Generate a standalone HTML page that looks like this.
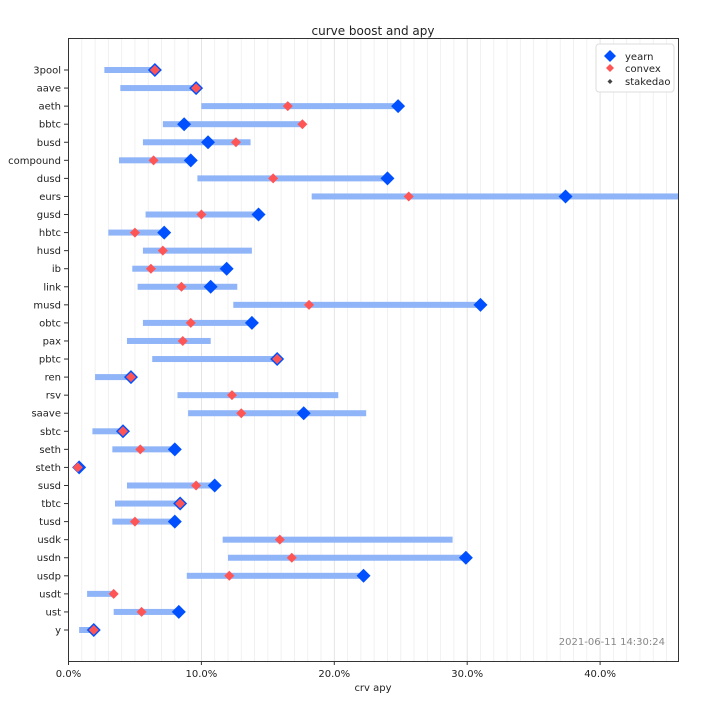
<!DOCTYPE html>
<html><head><meta charset="utf-8"><style>
body{margin:0;background:#fff;font-family:"Liberation Sans","DejaVu Sans",sans-serif}
svg text{font-family:"DejaVu Sans","Liberation Sans",sans-serif}
</style></head><body>
<svg id="chart" width="701" height="705" xmlns="http://www.w3.org/2000/svg">
<rect width="701" height="705" fill="#fff"/>
<text x="373" y="35" font-size="12" text-anchor="middle" fill="#222">curve boost and apy</text>
<g id="grid"></g><g id="marks"></g><g id="axes"></g>
<rect x="68.5" y="38.5" width="610" height="623" fill="none" stroke="#333" stroke-width="1"/>
<text x="665" y="645" font-size="10" text-anchor="end" fill="#888">2021-06-11 14:30:24</text>
<text x="373" y="691" font-size="10" text-anchor="middle" fill="#222">crv apy</text>
<g>
<rect x="596" y="44" width="78" height="48" rx="3" fill="#fff" stroke="#ddd"/>
<path d="M610,50 l6,6 l-6,6 l-6,-6z" fill="#0050ff"/>
<text x="625" y="60" font-size="10" fill="#222">yearn</text>
<path d="M610,64 l4,4 l-4,4 l-4,-4z" fill="#ff5555"/>
<text x="625" y="72" font-size="10" fill="#222">convex</text>
<path d="M610,79 l2.5,2.5 l-2.5,2.5 l-2.5,-2.5z" fill="#444"/>
<text x="625" y="85" font-size="10" fill="#222">stakedao</text>
</g>
</svg>
<script>
const categories=["3pool","aave","aeth","bbtc","busd","compound","dusd","eurs","gusd","hbtc","husd","ib","link","musd","obtc","pax","pbtc","ren","rsv","saave","sbtc","seth","steth","susd","tbtc","tusd","usdk","usdn","usdp","usdt","ust","y"];
const minApy=[2.7,3.9,10.0,7.1,5.6,3.8,9.7,18.3,5.8,3.0,5.6,4.8,5.2,12.4,5.6,4.4,6.3,2.0,8.2,9.0,1.8,3.3,0.5,4.4,3.5,3.3,11.6,12.0,8.9,1.4,3.4,0.8];
const maxApy=[6.5,9.6,24.8,17.6,13.7,9.2,24.0,50,14.3,7.2,13.8,11.9,12.7,31.0,13.8,10.7,15.7,4.7,20.3,22.4,4.1,8.0,0.8,11.0,8.4,8.0,28.9,29.9,22.2,3.4,8.3,1.9];
const yearnApy=[6.5,9.6,24.8,8.7,10.5,9.2,24.0,37.4,14.3,7.2,null,11.9,10.7,31.0,13.8,null,15.7,4.7,null,17.7,4.1,8.0,0.8,11.0,8.4,8.0,null,29.9,22.2,null,8.3,1.9];
const convexApy=[6.5,9.6,16.5,17.6,12.6,6.4,15.4,25.6,10.0,5.0,7.1,6.2,8.5,18.1,9.2,8.6,15.7,4.7,12.3,13.0,4.1,5.4,0.7,9.6,8.4,5.0,15.9,16.8,12.1,3.4,5.5,1.9];
const xTicks=[0,10,20,30,40];
const X0=68.5,X1=678.5,XMAX=45.9;
const x=v=>X0+(Math.min(v,XMAX)/XMAX)*(X1-X0);
const y=i=>70+i*(630-70)/(categories.length-1);
const NS="http://www.w3.org/2000/svg";
function mk(tag,attrs,parent){const e=document.createElementNS(NS,tag);for(const k in attrs)e.setAttribute(k,attrs[k]);parent.appendChild(e);return e;}
const grid=document.getElementById('grid'),marks=document.getElementById('marks'),axes=document.getElementById('axes');
for(let v=1;v<XMAX;v++){const l=mk('line',{x1:x(v),x2:x(v),y1:39,y2:661,stroke:v%10==0?'#ddd':'#eee','stroke-width':0.8},grid);

}
xTicks.forEach(t=>{mk('line',{x1:x(t),x2:x(t),y1:661,y2:665,stroke:'#333'},axes);
const tx=mk('text',{x:x(t),y:677,'font-size':10,'text-anchor':'middle',fill:'#222'},axes);tx.textContent=t.toFixed(1)+'%';

});
const dia=(cx,cy,r,fill,parent)=>mk('path',{d:`M${cx},${cy-r} l${r},${r} l${-r},${r} l${-r},${-r}z`,fill:fill},parent);
categories.forEach((c,i)=>{const cy=y(i);
mk('line',{x1:64,x2:68,y1:cy,y2:cy,stroke:'#333'},axes);
const tl=mk('text',{x:61,y:cy+3.5,'font-size':10,'text-anchor':'end',fill:'#222'},axes);tl.textContent=c;


const b=mk('rect',{x:x(minApy[i]),y:cy-3,width:x(maxApy[i])-x(minApy[i]),height:6,fill:'#8fb4f7'},marks);


if(yearnApy[i]!=null){const d=dia(x(yearnApy[i]),cy,7,'#0050ff',marks);

}
if(convexApy[i]!=null){const d=dia(x(convexApy[i]),cy,5,'#ff5555',marks);

}
});
</script>
</body></html>
